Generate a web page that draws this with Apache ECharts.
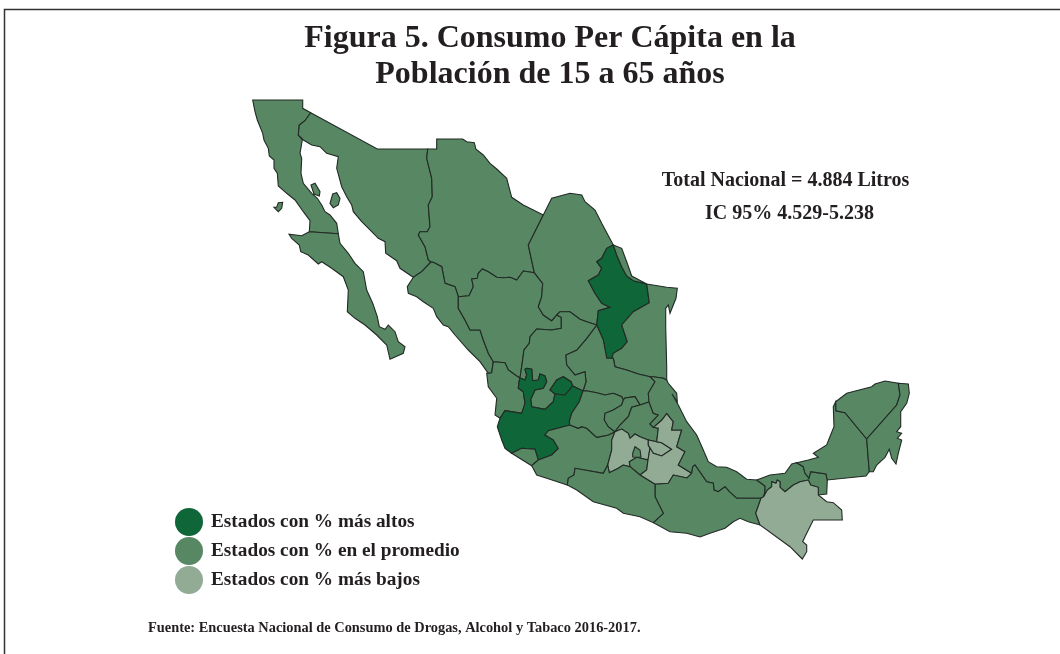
<!DOCTYPE html>
<html><head><meta charset="utf-8">
<style>html,body{margin:0;padding:0;background:#fff}#c{width:1060px;height:654px}</style>
<script src="https://cdn.jsdelivr.net/npm/echarts@6/dist/echarts.min.js"></script>
</head><body><div id="c"></div>
<script>
const titleText = 'Figura 5. Consumo Per Cápita en la\nPoblación de 15 a 65 años';
const totalText = 'Total Nacional = 4.884 Litros';
const ciText = 'IC 95% 4.529-5.238';
const sourceText = 'Fuente: Encuesta Nacional de Consumo de Drogas, Alcohol y Tabaco 2016-2017.';
const groupLabels = ['Estados con % más altos', 'Estados con % en el promedio', 'Estados con % más bajos'];
const groupColors = ['#0f6638', '#578763', '#92ab95'];
const statesHigh = ['Nuevo León', 'Jalisco', 'Aguascalientes'];
const statesLow = ['Chiapas', 'México', 'Puebla', 'Tlaxcala'];

const arcs = {
 bcPac:[[309.3,231.7],[310,220.7],[303.3,211.7],[295,200],[286.7,193.3],[278.3,186],[277.3,173.3],[274,168.3],[274,160],[269.3,156],[268.3,148.3],[264,140],[262.7,133.3],[257.3,120],[255,111.7],[252.7,100],[302.7,100],[302.7,108.3],[310.7,112.7]],
 bcSon:[[310.7,112.7],[305,120.7],[299.3,125],[298.3,135]],
 bcGulf:[[298.3,135],[302.3,140],[300,153.3],[301.7,158.3],[301,173.3],[303.3,183.3],[311.7,193.3],[317.3,198.3],[321.7,205],[325,211.7],[330,215],[336.7,223.3],[338.3,233.7]],
 bcBcs:[[338.3,233.7],[309.3,231.7]],
 bcsCoast:[[309.3,231.7],[301.7,235.7],[289,234.3],[291.7,238.3],[299.3,245],[300.7,251.7],[308.3,255],[318.3,264],[321.7,261.7],[331.7,268.3],[343.3,276.7],[348.3,290],[347.3,311.7],[355,318.3],[365,325],[376.7,335],[386.7,345],[390,359.3],[403.3,353.3],[405,346.7],[398.3,341.7],[395,331.7],[388.3,325],[385,329.3],[379.3,326.7],[377.3,316.7],[372.7,303.3],[366.7,290],[363.3,271.7],[355,263.3],[348.3,253.3],[340,243.3],[338.3,233.7]],
 sonUS:[[310.7,112.7],[377.3,149],[427.7,149]],
 sonChi:[[427.7,149],[426.7,158.3],[431.7,178.3],[432.3,196.7],[428.3,205],[430,226.7],[427.3,231.7],[420,231.7],[418.3,235],[425,246.7],[428.3,260],[431,262]],
 sonSin:[[431,262],[421.7,271.7],[413.3,277.3]],
 sonCoast:[[413.3,277.3],[400,268.3],[396.7,260.7],[385.7,253.3],[385,241.7],[378.3,238.3],[371.7,231.7],[361.7,221.7],[353.3,211.7],[351.7,205],[346.7,196.7],[341.7,186.7],[336.7,168.3],[338.3,156.7],[326.7,153.3],[320,146.7],[311.7,145],[303.3,140],[298.3,135]],
 chiNorth:[[427.7,149],[436.7,149],[436.7,139],[462.7,139],[466.7,141.7],[474.3,142.7],[476,149.3],[483.3,155],[490,163.3],[496.7,169],[506.7,178.3],[511.7,197.3],[523.3,205],[543.3,215]],
 chiCoa:[[543.3,215],[528.3,245],[534.3,272.7]],
 chiDur:[[534.3,272.7],[523.3,271],[516.7,280],[510,277.3],[503.3,277.7],[496.7,277.3],[488.3,271.7],[482.3,269],[478.3,273.3],[477.3,278.3],[471.7,279],[473.3,286.7],[469,295.7],[458.3,296.7]],
 chiSin:[[458.3,296.7],[455,286.7],[445,283.3],[441.7,266.7],[433.3,262.3],[431,262]],
 sinCoast:[[413.3,277.3],[407.3,286.7],[408.3,293.3],[416.7,296.7],[423.3,301.7],[433.3,308.3],[436.7,316.7],[443.3,325],[448.3,326.7],[455,335],[468.3,350],[480,361.7],[488.3,373.3]],
 sinNay:[[488.3,373.3],[491.7,372.7],[493.3,361.7]],
 sinDur:[[493.3,361.7],[488.3,353.3],[483.3,340],[480,330],[470,330],[465,320],[458.3,308.3],[458.3,296.7]],
 coaDur:[[534.3,272.7],[542.7,283.3],[541.7,296.7],[538.3,306.7],[543.3,315],[551.7,320.7],[556.7,315]],
 durZac:[[556.7,315],[561.3,317.3],[561.3,328.3],[551.7,330],[536.7,329],[530,336.7],[529.3,343.3],[524,350],[521.7,366.7],[520,378]],
 durNay:[[520,378],[516.7,376],[508.3,370],[505,362.7],[493.3,361.7]],
 nayJal:[[520,378],[519,381.7],[518.3,388.3],[523.3,391.7],[525,403.3],[521.7,413.3],[505,410.7],[500,418.3]],
 nayCoast:[[500,418.3],[495,415],[496.7,398.3],[488.3,386.7],[486.7,373.3],[488.3,373.3]],
 coaRio:[[543.3,215],[551.7,198.3],[570,193.3],[581.7,195],[585,201.7],[595,210],[601.7,223.3],[613.3,245]],
 coaNL:[[613.3,245],[606.7,248.3],[601.7,258.3],[596.7,261.7],[601.7,268.3],[598.3,275],[588.3,280.7],[595,293.3],[601.7,303.3],[610,307.3],[598.3,310.7],[596.7,325]],
 coaSouth:[[596.7,325],[586.7,321.7],[580,319.3],[570,311.7],[560,311.7],[556.7,315]],
 nlTam:[[613.3,245],[616.7,255],[621.7,266.7],[626.7,276],[633.3,280.7],[646.7,284],[649.3,302.7],[633.3,311.7],[621.7,325],[627.3,341.7],[621.7,348.3],[613.3,353.3],[611.7,358.3]],
 nlSlp:[[611.7,358.3],[606.7,358.3],[603.3,340],[596.7,325]],
 tamCoast:[[613.3,245],[621.7,248.3],[626.7,261.7],[631.7,276],[646.7,284],[666.7,287.3],[677.3,288.3],[676,298.3],[670,313.3],[668.3,305],[665.7,308.3],[665.7,326.7],[666.7,366.7],[666.7,380]],
 tamVer:[[666.7,380],[663.3,378.3],[653.3,376.7],[650,376.7]],
 tamSlp:[[650,376.7],[638.3,374],[626.7,370],[615,366.7],[613.3,358.3],[611.7,358.3]],
 slpVer:[[650,376.7],[655,381.7],[648.3,393.3],[649,402]],
 slpHgo:[[649,402],[640,405]],
 slpQro:[[640,405],[635,396.7],[625,398],[623.3,400]],
 slpGto:[[623.3,400],[621.7,396.7],[613.3,393.3],[605,395],[596.7,392.7],[586,390.7],[583,391]],
 slpZac:[[583,391],[586,381.7],[585,371.7],[575,375],[566.7,365],[565.7,355],[576.7,350],[586.7,338.3],[596.7,325]],
 zacJal:[[520,378],[525,380],[526.7,375],[525,369.3],[526.7,368.3],[531.7,369.3],[532.7,380.7],[538.3,380],[540,374],[545,376],[546.7,381.7],[543.3,388.3],[535,390],[530.7,399.3],[531.7,406.7],[545,409.3],[553.3,401.7],[555,394]],
 zacAgs:[[555,394],[550,390],[556.7,380],[563.3,376.7],[571,381.7],[572.7,386]],
 agsJal:[[555,394],[565,395],[572.7,386]],
 zacJal2:[[572.7,386],[583,391]],
 jalGto:[[583,391],[579.3,401.7],[571.7,413.3],[569.3,421.7],[570,425]],
 jalMic:[[570,425],[548.3,430.7],[545,435],[553.3,440],[558.3,448.3],[551.7,455],[538.3,460]],
 jalCol:[[538.3,460],[535,449.3],[521.7,448.3],[511.7,453.3]],
 jalCoast:[[511.7,453.3],[505,448.3],[501.7,440],[497.3,426.7],[500,418.3]],
 colMic:[[538.3,460],[531.7,465.7]],
 colCoast:[[531.7,465.7],[511.7,453.3]],
 gtoMic:[[570,425],[578.3,428.3],[581.7,426.7],[586.7,428.3],[596.7,437.3],[608.3,435],[615,431.7]],
 micMex:[[615,431.7],[611.7,440],[611.7,450],[607.7,465]],
 micGro:[[607.7,465],[603.3,473.3],[575,468.3],[574,475],[568.3,478.3],[567.3,485]],
 micCoast:[[567.3,485],[546.7,478.3],[536.7,475],[531.7,465.7]],
 mexGro:[[607.7,465],[609.3,472.7],[618.3,468.3],[623.3,465],[630,466.7]],
 gtoQro:[[623.3,400],[621.7,405],[613.3,410],[605,413.3],[604.3,420],[608.3,426.7],[615,431.7]],
 qroHgo:[[640,405],[631.7,407.3],[628.3,416.7],[620,425],[615,431.7]],
 hgoVer:[[649,402],[653.3,413.3],[658.3,415],[650,424],[653.3,427.3]],
 hgoPue:[[653.3,427.3],[658.3,428.3],[656.7,441.7]],
 hgoTlx:[[656.7,441.7],[648.3,440]],
 hgoMex:[[648.3,440],[640,436.7],[635,434],[630,438.3],[628.3,433.3],[621.7,429],[615,431.7]],
 tlxMex:[[648.3,440],[648.3,445],[650,448]],
 mexPue:[[650,448],[648,460]],
 tlxPue:[[650,448],[653.3,453.3],[661.7,456],[671.7,449.3],[661.7,442.7],[656.7,441.7]],
 mexMor:[[630,466.7],[629.3,461.7],[636.7,457.3],[648,460]],
 morPue:[[648,460],[646.7,470],[640,475]],
 morGro:[[640,475],[630,466.7]],
 pueVer:[[653.3,427.3],[661.7,420],[666.7,413.3],[673.3,421.7],[671.7,430],[681.7,430],[676.7,446.7],[685,451.7],[678.3,465],[691.7,473.3]],
 pueOax:[[691.7,473.3],[687,478],[673.3,475],[668.3,483.3],[655,484.3]],
 pueGro:[[655,484.3],[640,475]],
 verCoast:[[666.7,380],[668.3,383.3],[676.7,393.3],[677.3,401.7],[672,394],[678.3,405],[686.7,421.7],[696.7,435],[703.3,450],[708.3,461.7],[716.7,466.7],[726.7,467.3],[736.7,471.7],[746.7,479.3],[756.7,480]],
 verTab:[[756.7,480],[765,486],[765,491.7],[763.7,496.7]],
 verChi:[[763.7,496.7],[761,498.3]],
 verOax:[[761,498.3],[736.7,498.3],[729.3,491.7],[725,486.7],[718.3,491.7],[714,490],[713.3,483.3],[706.7,481.7],[695,465],[692.7,466.7],[691.7,473.3]],
 oaxChi:[[761,498.3],[755.7,513.3],[760,525]],
 oaxCoast:[[760,525],[748.3,521.7],[740,518.3],[733.3,521.7],[725,528.3],[710,533.3],[700,537],[686.7,533.3],[670,531.7],[653.3,522.7]],
 oaxGro:[[653.3,522.7],[663.3,513.3],[655,496.7],[655,484.3]],
 groCoast:[[653.3,522.7],[640,516.7],[623.3,513.3],[616.7,508.3],[593.3,501.7],[576.7,490],[567.3,485]],
 tabCoast:[[756.7,480],[770,475],[785,473.3],[791.7,464],[796.7,462.7]],
 tabCam:[[796.7,462.7],[803.3,466.7],[805,473.3],[809,478],[810.7,471.7],[826,474],[827.3,480]],
 tabGua:[[827.3,480],[826.7,494],[818.3,495]],
 chiTab:[[763.7,496.7],[767.3,490],[771.7,486.7],[771.7,481.7],[776,483.3],[777.3,480],[780,481.7],[780,487.3],[785,491.7],[793.3,485],[800,481.7],[808.3,480],[810.7,485],[818.3,487.3],[818.3,495]],
 chiEast:[[818.3,495],[826.7,501.7],[833.3,502.7],[841.7,510],[842.3,520],[813.3,520],[805,536.7],[802.7,541.7],[806.7,545],[806.7,551.7],[802.3,559],[790,546.7],[760,525]],
 camCoast:[[796.7,462.7],[808.3,460],[818.3,457.3],[813.3,453.3],[826.7,445],[829.3,438.3],[834,426.7],[833.3,406.7],[835.7,401.7]],
 camYuc:[[835.7,401.7],[836,410.7],[845,412.7],[866.7,439]],
 camQro:[[866.7,439],[869.3,471.7]],
 camSouth:[[869.3,471.7],[866,476],[827.3,480]],
 yucCoast:[[835.7,401.7],[846.7,393.3],[871.7,386.7],[875,384],[885,381],[898.3,383.3]],
 yucQro:[[898.3,383.3],[900,395],[896.7,405],[866.7,439]],
 qroCoast:[[898.3,383.3],[908.3,384],[909.3,393.3],[906.7,403.3],[900.7,411.7],[900.7,426.7],[896.7,431.7],[901.7,433.3],[897.3,438.3],[901.7,440],[898.3,453.3],[896,464],[891.7,458.3],[889.3,449.3],[885,457.3],[876.7,465],[873.3,471.7],[869.3,471.7]]
};
const islands = {
 cedros:[[274,207.3],[278.3,211.7],[281.7,208.3],[282.7,202.3],[278.3,202.7],[276.7,207.3]],
 angel:[[311,185],[315,183.3],[320,191.7],[319.3,196],[314,194]],
 tiburon:[[330,203.3],[332.7,194],[336.7,192.7],[340,198.3],[338.3,205],[333.3,207.7]]
};
const stateRings = [
 ['Baja California',['bcPac','bcSon','bcGulf','bcBcs'],['cedros','angel']],
 ['Baja California Sur',['bcsCoast','bcBcs']],
 ['Sonora',['sonUS','sonChi','sonSin','sonCoast','-bcSon'],['tiburon']],
 ['Chihuahua',['chiNorth','chiCoa','chiDur','chiSin','-sonChi']],
 ['Sinaloa',['sonSin','sinCoast','sinNay','sinDur','chiSin']],
 ['Durango',['-chiDur','coaDur','durZac','durNay','sinDur']],
 ['Nayarit',['-durNay','nayJal','nayCoast','sinNay']],
 ['Coahuila',['coaRio','coaNL','coaSouth','-coaDur','-chiCoa']],
 ['Nuevo León',['-coaNL','nlTam','nlSlp']],
 ['Tamaulipas',['tamCoast','tamVer','tamSlp','-nlTam']],
 ['San Luis Potosí',['-nlSlp','-tamSlp','slpVer','slpHgo','slpQro','slpGto','slpZac']],
 ['Zacatecas',['coaSouth','durZac','zacJal','zacAgs','zacJal2','slpZac']],
 ['Aguascalientes',['zacAgs','-agsJal']],
 ['Jalisco',['zacJal','agsJal','zacJal2','jalGto','jalMic','jalCol','jalCoast','-nayJal']],
 ['Colima',['-jalCol','colMic','colCoast']],
 ['Michoacán',['-jalMic','gtoMic','micMex','micGro','micCoast','-colMic']],
 ['Guanajuato',['-jalGto','-slpGto','gtoQro','-gtoMic']],
 ['Querétaro',['-gtoQro','-slpQro','qroHgo']],
 ['Hidalgo',['-slpHgo','hgoVer','hgoPue','hgoTlx','hgoMex','-qroHgo']],
 ['México',['-micMex','-hgoMex','tlxMex','mexPue','-mexMor','-mexGro']],
 ['Tlaxcala',['hgoTlx','tlxMex','tlxPue']],
 ['Morelos',['mexMor','morPue','morGro']],
 ['Puebla',['-hgoPue','pueVer','pueOax','pueGro','-morPue','-mexPue','tlxPue']],
 ['Veracruz',['verCoast','verTab','verChi','verOax','-pueVer','-hgoVer','-slpVer','-tamVer']],
 ['Oaxaca',['-pueOax','-verOax','oaxChi','oaxCoast','oaxGro']],
 ['Guerrero',['-micGro','mexGro','-morGro','-pueGro','-oaxGro','groCoast']],
 ['Tabasco',['tabCoast','tabCam','tabGua','-chiTab','-verTab']],
 ['Chiapas',['-verChi','chiTab','chiEast','-oaxChi']],
 ['Campeche',['camCoast','camYuc','camQro','camSouth','-tabCam']],
 ['Yucatán',['yucCoast','yucQro','-camYuc']],
 ['Quintana Roo',['qroCoast','-camQro','-yucQro']]
];
const cdmxOutline = [[632.7,453.3],[635,446.7],[640,450],[641,457.3],[636.7,457.3],[632.7,457]];

const toGeo = p => [p[0], -p[1]];
function ring(names) {
  const pts = [];
  names.forEach(n => {
    const rev = n[0] === '-';
    const a = arcs[rev ? n.slice(1) : n];
    (rev ? a.slice().reverse() : a).forEach(p => pts.push(toGeo(p)));
  });
  pts.push(pts[0]);
  return pts;
}
const closed = a => a.concat([a[0]]).map(toGeo);
const features = stateRings.map(s => ({
  type: 'Feature', properties: {name: s[0]},
  geometry: {type: 'MultiPolygon', coordinates: [[ring(s[1])]].concat((s[2] || []).map(i => [closed(islands[i])]))}
}));
features.push({type: 'Feature', properties: {name: 'Ciudad de México'},
  geometry: {type: 'Polygon', coordinates: [closed(cdmxOutline)]}});
echarts.registerMap('mexico', {type: 'FeatureCollection', features});

const groupOf = n => statesHigh.includes(n) ? 0 : statesLow.includes(n) ? 2 : 1;
const seriesData = features.map(f => ({name: f.properties.name, value: groupOf(f.properties.name)}));

const serif = '"Liberation Serif", serif';
const chart = echarts.init(document.getElementById('c'), null, {renderer: 'canvas'});
chart.setOption({
  animation: false,
  backgroundColor: '#fff',
  title: [
    {text: titleText, left: 545, top: 16, textAlign: 'center',
     textStyle: {fontFamily: serif, fontWeight: 'bold', fontSize: 32, lineHeight: 36, color: '#231f20'}},
    {text: totalText, left: 780.5, top: 166, textAlign: 'center',
     textStyle: {fontFamily: serif, fontWeight: 'bold', fontSize: 20, color: '#231f20'}},
    {text: ciText, left: 784.5, top: 199, textAlign: 'center',
     textStyle: {fontFamily: serif, fontWeight: 'bold', fontSize: 20, color: '#231f20'}},
    {text: sourceText, left: 143, top: 616, textStyle: {fontFamily: serif, fontWeight: 'bold', fontSize: 14.4, color: '#231f20'}}
  ],
  visualMap: {
    type: 'piecewise', orient: 'vertical', inverse: true, left: 160, top: 493, itemWidth: 28, itemHeight: 28,
    itemSymbol: 'circle', itemGap: 1, textGap: 8, align: 'left', selectedMode: false, hoverLink: false,
    pieces: groupLabels.map((label, i) => ({value: i, label, color: groupColors[i]})),
    textStyle: {fontFamily: serif, fontWeight: 'bold', fontSize: 19.3, color: '#231f20', padding: [5, 0, 0, 0]}
  },
  graphic: [{type: 'polyline', silent: true, shape: {points: [[4.5, 654], [4.5, 9.5], [1060, 9.5]]},
    style: {stroke: '#333', lineWidth: 1.5, fill: null}}],
  series: [{
    type: 'map', map: 'mexico', silent: true, aspectScale: 1, roam: false,
    boundingCoords: [[0, 0], [1060, -654]], left: 0, top: 0, width: 1060, height: 654,
    label: {show: false}, emphasis: {disabled: true}, select: {disabled: true},
    itemStyle: {borderColor: '#222a25', borderWidth: 1.1},
    data: seriesData
  }]
});
</script></body></html>
